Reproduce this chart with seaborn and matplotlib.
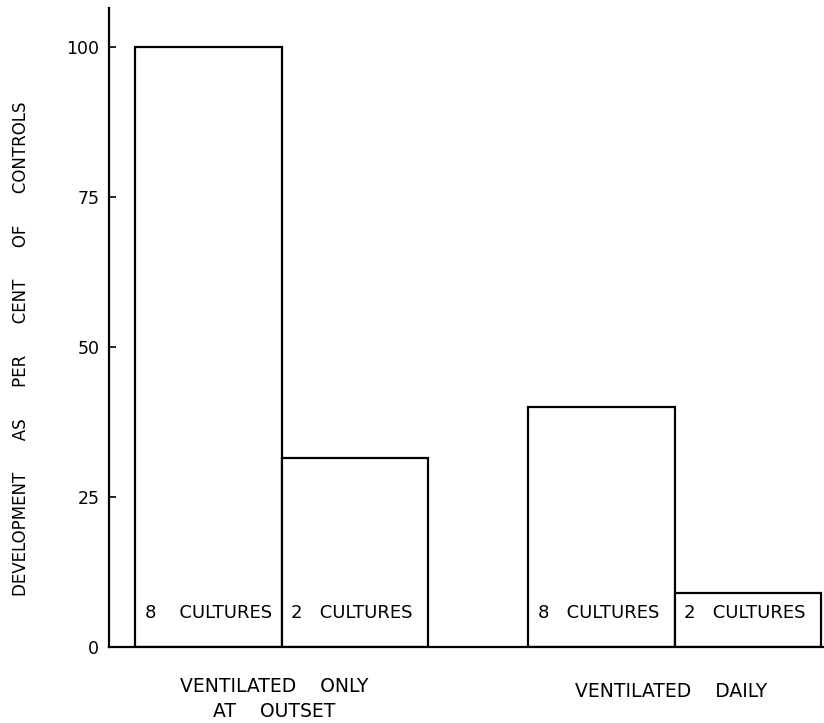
import matplotlib
matplotlib.use("Agg")
import matplotlib.pyplot as plt
import matplotlib.transforms as mtransforms
import pandas as pd
import seaborn as sns

groups = ["VENTILATED    ONLY\nAT    OUTSET", "VENTILATED    ONLY\nAT    OUTSET",
          "VENTILATED    DAILY", "VENTILATED    DAILY"]
cultures = ["8    CULTURES", "2   CULTURES", "8   CULTURES", "2   CULTURES"]
values = [100, 31.5, 40, 9]
yticks = [0, 25, 50, 75, 100]
ylabel = "DEVELOPMENT      AS      PER      CENT      OF      CONTROLS"

df = pd.DataFrame({"group": groups, "n": ["8", "2", "8", "2"], "value": values})

sns.set_style("white")
plt.rcParams["font.family"] = ["DejaVu Sans"]
plt.rcParams["text.color"] = "black"

fig = plt.figure(figsize=(8.24, 7.23), dpi=100)
ax = fig.add_axes([109 / 824, 76 / 723, 715 / 824, 639 / 723])

sns.barplot(data=df, x="group", y="value", hue="n", hue_order=["8", "2"],
            width=0.746, palette=["white", "white"],
            edgecolor="black", linewidth=1.6, legend=False, ax=ax)

# culture counts written at the foot of each bar
for p, lab in zip(sorted(ax.patches, key=lambda r: r.get_x()), cultures):
    ax.text(p.get_x() + 0.024, 5.7, lab, ha="left", va="center",
            fontsize=13, color="black")

ax.set_xlim(-0.44, 1.38)
ax.set_ylim(0, 106.5)
ax.set_yticks(yticks)
ax.set_yticklabels([str(t) for t in yticks], fontsize=12.5, color="black")
ax.tick_params(axis="y", direction="in", length=5, width=1.2, pad=7,
               left=True, colors="black")
ax.set_xticks([])
ax.set_xlabel("")
ax.set_ylabel(ylabel, fontsize=12, color="black")
ax.yaxis.set_label_coords(-0.111, 0.467)

trans = mtransforms.blended_transform_factory(ax.transData, ax.transAxes)
names = list(dict.fromkeys(groups))
for i, name in enumerate(names):
    two = "\n" in name
    ax.text(i - (0.02 if two else 0.01), -0.0806 if two else -0.0704, name,
            transform=trans, ha="center", va="center", fontsize=13.5,
            linespacing=1.4, color="black")

sns.despine(ax=ax, top=True, right=True)
for s in ["left", "bottom"]:
    ax.spines[s].set_linewidth(1.6)
    ax.spines[s].set_color("black")

fig.savefig("out.png", dpi=100)
